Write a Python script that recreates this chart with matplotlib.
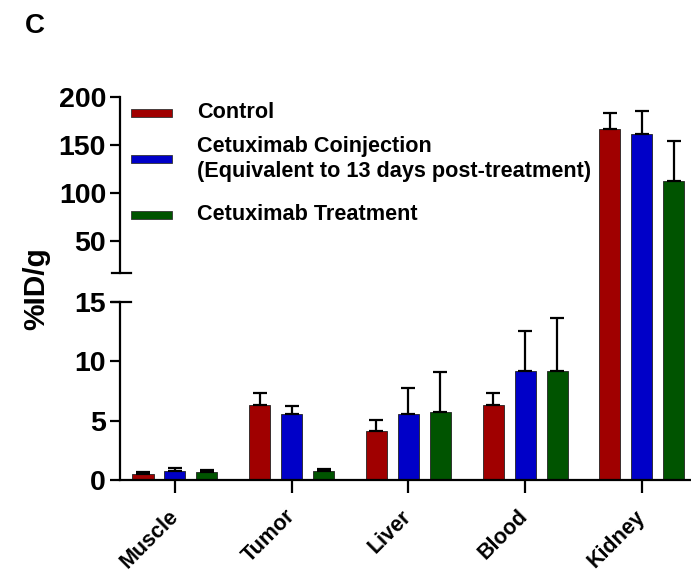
import numpy as np
import matplotlib
matplotlib.use('Agg')
import matplotlib.pyplot as plt
from matplotlib.patches import Rectangle
import matplotlib.transforms as mtransforms

plt.rcParams['font.family'] = ['Liberation Sans', 'DejaVu Sans']
plt.rcParams['font.weight'] = 'bold'

# ---------------- data ----------------
categories = ['Muscle', 'Tumor', 'Liver', 'Blood', 'Kidney']
series_labels = ['Control',
                 'Cetuximab Coinjection\n(Equivalent to 13 days post-treatment)',
                 'Cetuximab Treatment']
control = [0.5, 6.3, 4.15, 6.3, 167]
control_err = [0.15, 1.05, 0.9, 1.0, 16]
coinjection = [0.8, 5.6, 5.6, 9.2, 161]
coinjection_err = [0.17, 0.63, 2.17, 3.35, 24.6]
treatment = [0.65, 0.75, 5.77, 9.2, 113]
treatment_err = [0.22, 0.2, 3.3, 4.45, 41]
yticks = [0, 5, 10, 15, 50, 100, 150, 200]

colors = ['#A00000', '#0000C8', '#005400']

# ---------------- broken-axis scale ----------------
LOW_TOP = 15.0
A = 178.0 / 15.0          # px per unit in lower segment
GAP = 29.0
B = 0.96                  # px per unit in upper segment
VB = 200 - (383 - 207) / B  # value at the bottom of the upper segment


def fwd(v):
    v = np.asarray(v, dtype=float)
    return np.where(v <= LOW_TOP, v * A,
                    np.where(v <= VB, 178 + (v - LOW_TOP) * GAP / (VB - LOW_TOP),
                             207 + (v - VB) * B))


def inv(t):
    t = np.asarray(t, dtype=float)
    return np.where(t <= 178, t / A,
                    np.where(t <= 207, LOW_TOP + (t - 178) * (VB - LOW_TOP) / GAP,
                             VB + (t - 207) / B))


W, H = 691, 574
fig = plt.figure(figsize=(W / 100, H / 100), dpi=100)
ax = fig.add_axes([120 / W, (H - 480) / H, (W - 120) / W, (480 - 97) / H])
ax.set_yscale('function', functions=(fwd, inv))

x = np.arange(len(categories))
width = 0.18
offset = 0.274
for i, (vals, errs) in enumerate([(control, control_err),
                                  (coinjection, coinjection_err),
                                  (treatment, treatment_err)]):
    ax.bar(x + (i - 1) * offset, vals, width, color=colors[i],
           edgecolor='#222222', linewidth=0.6,
           yerr=[np.zeros(len(errs)), errs],
           error_kw=dict(ecolor='black', elinewidth=1.6, capsize=5, capthick=1.6),
           zorder=2)

ax.set_xlim(-0.471, 4.42)
ax.set_ylim(0, 200)
ax.set_yticks(yticks)
ax.set_yticklabels([str(t) for t in yticks], fontsize=20.5, fontweight='bold')
ax.yaxis.set_minor_locator(matplotlib.ticker.NullLocator())
ax.set_xticks(x)
ax.set_xticklabels(categories, fontsize=15.5, fontweight='bold', rotation=45,
                   ha='right', va='center', rotation_mode='anchor')

ax.tick_params(axis='y', length=7, width=1.6, pad=3)
ax.tick_params(axis='x', length=9, width=1.6, pad=15)

for s in ['top', 'right', 'left']:
    ax.spines[s].set_visible(False)
ax.spines['bottom'].set_linewidth(1.6)

# broken left axis line
trans = mtransforms.blended_transform_factory(ax.transAxes, ax.transData)
ax.plot([0, 0], [0, LOW_TOP], color='black', lw=1.6, transform=trans, clip_on=False)
ax.plot([0, 0], [VB, 200], color='black', lw=1.6, transform=trans, clip_on=False)
axw = (W - 120)
for yv in [LOW_TOP, VB]:
    ax.plot([-8 / axw, 11 / axw], [yv, yv], color='black', lw=1.6,
            transform=trans, clip_on=False)

ax.set_ylabel('%ID/g', fontsize=21.5, fontweight='bold', labelpad=6)

# legend (manual)
leg_y = [113, 159, 215]
for c, yy in zip(colors, leg_y):
    fig.patches.append(Rectangle((131 / W, 1 - (yy + 4) / H), 41 / W, 8 / H,
                                 transform=fig.transFigure, facecolor=c,
                                 edgecolor='#333333', linewidth=0.6))
for lab, yy in zip(series_labels, leg_y):
    fig.text(197 / W, 1 - yy / H, lab, fontsize=15.6, fontweight='bold',
             ha='left', va='center', linespacing=1.3)

fig.text(25 / W, 1 - 26 / H, 'C', fontsize=20, fontweight='bold',
         ha='left', va='center')

fig.savefig('out.png', dpi=100)
